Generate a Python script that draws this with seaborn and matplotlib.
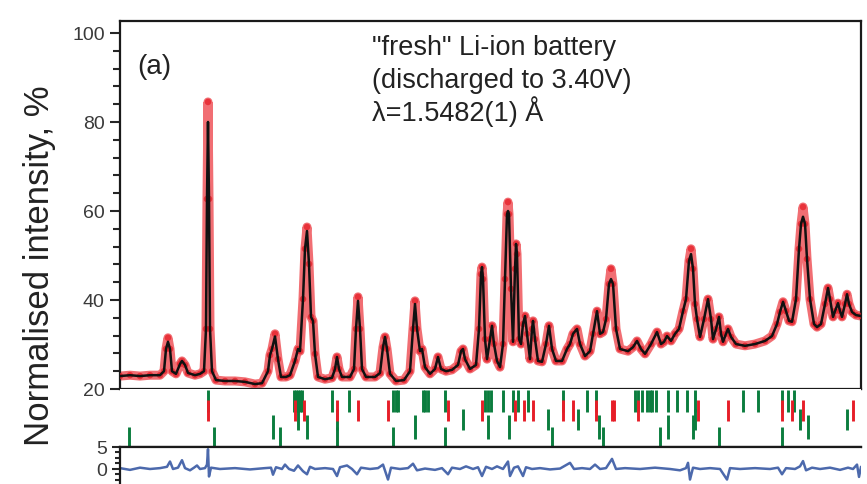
import numpy as np
import pandas as pd
import matplotlib
matplotlib.use("Agg")
import matplotlib.pyplot as plt
from matplotlib.ticker import MultipleLocator
import seaborn as sns

# 2theta (deg) of the profile vertices
two_theta = [4.0, 6.0, 8.0, 10.0, 12.0, 12.8, 13.2, 13.6, 14.0, 14.4, 15.2, 16.0, 16.4, 17.0, 17.6,
             19.0, 20.0, 20.8, 21.2, 21.4, 21.6, 21.8, 22.0, 22.4, 23.2, 25.0, 27.0, 29.0, 31.0,
             32.4, 33.6, 34.0, 34.4, 35.0, 35.6, 36.2, 37.2, 38.0, 39.0, 39.6, 40.0, 40.6, 41.0,
             41.4, 41.8, 42.2, 42.6, 43.0, 43.6, 45.0, 46.4, 47.0, 47.4, 47.8, 48.4, 50.0, 50.8,
             51.2, 51.6, 52.0, 52.4, 53.2, 55.0, 56.0, 56.6, 57.0, 57.4, 58.0, 59.2, 60.8, 62.0,
             62.6, 63.0, 63.4, 64.0, 64.4, 65.0, 66.0, 67.0, 67.6, 68.2, 69.2, 70.4, 71.6, 72.2,
             72.6, 73.0, 74.0, 75.2, 75.8, 76.2, 76.4, 76.6, 77.0, 77.4, 78.0, 78.4, 78.8, 79.4,
             80.0, 80.6, 81.0, 81.4, 81.6, 81.8, 82.2, 82.6, 83.0, 83.2, 83.4, 83.8, 84.2, 84.6,
             85.0, 85.4, 86.0, 86.4, 86.6, 87.0, 87.6, 88.4, 89.2, 89.8, 90.4, 91.2, 92.4, 93.4,
             94.0, 94.6, 95.4, 96.0, 97.0, 98.0, 98.6, 99.4, 100.0, 100.6, 101.2, 101.8, 102.2,
             102.6, 103.2, 104.0, 105.6, 106.6, 107.4, 108.2, 109.0, 110.2, 111.4, 112.2, 112.8,
             113.4, 114.2, 115.0, 115.8, 116.6, 117.2, 117.8, 118.2, 118.6, 119.0, 119.4, 120.0,
             120.8, 121.6, 122.2, 122.6, 123.2, 123.8, 124.2, 124.6, 125.2, 125.6, 126.2, 127.2,
             129.0, 131.0, 133.0, 134.4, 135.4, 136.0, 136.6, 137.2, 137.8, 138.4, 139.2, 139.8,
             140.2, 140.6, 141.0, 141.4, 142.0, 142.8, 143.4, 144.2, 145.0, 145.6, 146.0, 146.6,
             147.0, 147.6, 148.0, 148.4, 149.0, 149.4, 149.8, 150.4, 151.2, 152.2]

# calculated profile
y_calc = [22.9, 23.1, 22.9, 23.1, 23.1, 24.0, 29.0, 30.6, 29.0, 24.0, 23.4, 25.6, 26.3, 25.4, 23.6,
          23.1, 23.4, 24.0, 33.5, 62.7, 80.0, 62.7, 33.5, 24.0, 22.0, 21.8, 21.8, 21.6, 21.1,
          21.3, 24.0, 27.6, 29.0, 31.8, 26.7, 22.7, 22.7, 23.1, 26.3, 29.0, 28.5, 40.2, 51.5,
          55.5, 48.1, 36.2, 35.3, 27.9, 22.7, 22.2, 22.5, 24.5, 27.2, 24.5, 22.7, 22.7, 24.5,
          33.5, 39.8, 33.5, 24.5, 22.7, 22.7, 23.6, 29.4, 31.7, 29.0, 23.4, 21.8, 22.0, 24.0,
          33.5, 39.1, 33.5, 28.5, 29.0, 24.9, 23.4, 24.5, 27.2, 24.5, 24.0, 24.3, 25.4, 28.5,
          29.0, 26.7, 24.5, 25.4, 33.5, 45.8, 47.4, 44.7, 31.2, 26.7, 31.2, 34.2, 30.1, 26.3,
          24.9, 30.1, 44.7, 59.3, 60.0, 59.3, 42.5, 30.6, 47.0, 52.6, 50.3, 31.2, 30.1, 34.6,
          36.4, 32.4, 26.7, 33.5, 35.3, 31.2, 26.3, 26.1, 30.1, 34.2, 29.0, 26.3, 26.3, 29.0,
          30.1, 32.4, 33.5, 30.1, 27.4, 28.5, 32.4, 37.5, 32.4, 32.8, 35.7, 43.6, 44.7,
          43.6, 33.5, 29.0, 28.5, 29.4, 30.8, 29.0, 27.9, 30.1, 32.8, 30.1, 30.6,
          31.9, 30.8, 32.4, 33.5, 37.5, 40.2, 48.8, 50.3, 47.0, 39.1, 35.7, 31.7,
          35.7, 40.2, 35.7, 31.2, 33.5, 36.2, 32.4, 30.6, 32.4, 33.5, 31.7, 30.1,
          29.7, 30.1, 30.8, 31.9, 34.6, 37.3, 39.6, 37.5, 35.3, 35.1, 40.2, 51.5,
          57.1, 58.7, 57.1, 49.2, 40.2, 34.6, 33.9, 34.6, 39.1, 42.7, 40.2, 36.2,
          37.5, 39.3, 37.5, 36.2, 39.1, 41.3, 39.1, 37.3, 36.6, 36.4]

# observed points (same grid), higher than calc at the strong peak tops
y_obs = list(y_calc)
for pos, val in [(13.6, 31.5), (21.6, 84.5), (35.0, 32.4), (41.4, 56.4), (51.6, 40.7),
                 (63.0, 39.8), (81.6, 62.0), (102.2, 47.0), (118.2, 51.5), (140.6, 60.9)]:
    y_obs[two_theta.index(pos)] = val

# difference curve (obs - calc)
diff_x = [4.0, 6.0, 8.0, 10.0, 12.0, 13.4, 14.0, 14.6, 15.6, 16.4, 17.0, 18.0, 18.8, 19.4, 20.0,
          21.0, 21.4, 21.6, 21.8, 22.2, 24.0, 27.0, 30.0, 33.0, 34.2, 34.6, 35.2, 36.4, 37.0,
          37.8, 38.8, 39.6, 40.6, 41.4, 42.0, 43.0, 45.0, 46.6, 47.4, 48.0, 49.4, 50.4, 51.4,
          52.2, 54.0, 55.6, 56.6, 57.6, 58.2, 60.0, 61.6, 62.6, 63.4, 65.0, 67.0, 68.4, 69.6,
          70.4, 72.0, 73.2, 74.6, 75.6, 76.4, 77.2, 78.4, 79.4, 80.6, 81.6, 82.0, 82.8, 83.6,
          84.6, 85.2, 86.4, 88.0, 90.0, 92.0, 94.0, 94.8, 96.4, 98.0, 99.0, 100.0, 101.2,
          102.4, 103.2, 105.0, 108.0, 111.0, 114.0, 116.0, 117.2, 117.6, 118.0, 118.6, 120.0,
          122.0, 124.0, 125.4, 126.0, 128.0, 131.0, 134.0, 135.6, 136.4, 137.2, 139.0, 140.0,
          140.6, 141.2, 142.4, 144.0, 146.0, 148.0, 149.6, 150.6, 151.4, 151.8, 152.2]
diff_y = [0.2, -0.2, 0.3, 0.0, 0.2, 0.5, 1.7, 0.0, 0.3, 2.0, 0.2, -0.3, 0.3, 0.8, 0.0,
          0.2, 1.0, 4.5, -1.7, 0.3, 0.0, 0.2, -0.1, 0.2, 0.3, -1.3, 0.4, 0.0, 1.0,
          0.0, -0.4, 0.8, -0.5, -1.2, 0.5, 0.0, 0.2, 0.0, -1.6, 0.4, 0.8, 0.0, -1.2,
          0.3, 0.0, 0.2, 1.0, -2.4, 0.3, 0.0, 0.2, 1.2, -0.3, 0.1, -0.2, 0.2, -1.2,
          0.3, 0.0, 0.6, 0.0, 0.4, -1.6, 0.5, 0.0, 0.6, 0.0, 1.7, -1.6, 0.3, 0.6,
          -1.6, 0.4, 0.0, 0.2, -0.1, 0.1, 1.4, 0.0, 0.2, 0.0, 1.0, 0.0, 0.2,
          2.3, 0.0, 0.2, 0.0, 0.3, 0.0, -0.3, 0.2, 1.4, -2.4, 0.3, 0.0,
          0.2, 0.0, -2.4, 0.2, 0.0, 0.2, 0.0, 0.3, -1.2, 0.2, 0.0, 0.6,
          1.8, -0.3, 0.3, 0.0, 0.3, -0.2, 0.3, 0.0, 1.0, -1.8, 0.5]

# Bragg reflection markers, one list per phase row
ticks_row1 = [21.6, 38.8, 39.2, 39.6, 40.0, 40.4, 46.4, 49.8, 58.6, 59.2, 59.6, 64.6, 65.0, 65.6,
              69.0, 77.0, 77.6, 78.2, 80.6, 82.6, 83.6, 85.6, 92.6, 97.4, 99.2, 107.0, 107.6,
              108.4, 109.4, 110.0, 110.4, 111.2, 113.6, 115.4, 117.4, 119.0, 128.6, 131.6,
              136.4, 137.6, 138.8]
ticks_row2 = [21.6, 39.0, 40.8, 47.4, 51.6, 57.6, 69.6, 76.4, 83.0, 84.8, 86.6, 92.6, 94.6, 99.2,
              102.4, 102.8, 107.6, 119.6, 125.6, 136.4, 138.4, 140.6, 150.6]
ticks_row3 = [39.6, 47.4, 72.6, 89.6, 95.6, 119.0, 140.0, 149.4]
ticks_row4 = [34.6, 41.4, 63.0, 77.6, 81.8, 99.8, 113.6, 118.6, 141.6]
ticks_row5 = [5.8, 22.8, 36.0, 47.4, 58.6, 69.0, 90.4, 100.6, 112.0, 123.8, 136.4]

df = pd.DataFrame({"tth": two_theta, "obs": y_obs, "calc": y_calc})
dd = pd.DataFrame({"tth": diff_x, "diff": diff_y})

sns.set_style("ticks")
plt.rcParams["font.family"] = ["Liberation Sans", "DejaVu Sans"]

fig = plt.figure(figsize=(8.67, 4.85), dpi=100)
ax = fig.add_axes([0.1384, 0.1959, 0.8547, 0.7588])
axt = fig.add_axes([0.1384, 0.0763, 0.8547, 0.1196])
axd = fig.add_axes([0.1384, -0.0598, 0.8547, 0.1361])

red = "#e61e28"
green = "#0b7d3e"

# observed: thick red band + dots, calculated: black line
sns.lineplot(data=df, x="tth", y="obs", ax=ax, sort=False, color="#ee4a50", lw=6.5, alpha=0.8)
sns.scatterplot(data=df, x="tth", y="obs", ax=ax, color=red, s=22, alpha=0.75,
                edgecolor="none", zorder=3)
sns.lineplot(data=df, x="tth", y="calc", ax=ax, sort=False, color="#111111", lw=1.8, zorder=4)

ax.set_xlim(4.0, 152.2)
ax.set_ylim(20, 102.7)
ax.yaxis.set_major_locator(MultipleLocator(20))
ax.yaxis.set_minor_locator(MultipleLocator(4))
ax.set_xticks([])
ax.set_xlabel("")
ax.set_ylabel("")
for s in ax.spines.values():
    s.set_linewidth(1.6)
    s.set_color("#1a1a1a")
ax.tick_params(axis="y", which="major", length=7, width=1.5, pad=4, labelsize=14,
               labelcolor="#3a3a3a")
ax.tick_params(axis="y", which="minor", length=5, width=1.5)

# reflection tick panel
rows = [(ticks_row1, green, 0.60, 0.98), (ticks_row2, red, 0.45, 0.81),
        (ticks_row3, green, 0.29, 0.66), (ticks_row4, green, 0.14, 0.55),
        (ticks_row5, green, 0.0, 0.34)]
order = [0, 2, 3, 4, 1]
for i in order:
    pos, col, lo, hi = rows[i]
    axt.vlines(pos, lo, hi, color=col, lw=2.1, zorder=3 if col == red else 2)
axt.set_xlim(4.0, 152.2)
axt.set_ylim(0, 1)
axt.set_xticks([])
axt.set_yticks([])
for k in ["left", "right", "top"]:
    axt.spines[k].set_visible(False)
axt.spines["bottom"].set_linewidth(1.6)
axt.spines["bottom"].set_color("#1a1a1a")

# difference panel
sns.lineplot(data=dd, x="tth", y="diff", ax=axd, sort=False, color="#2c4f9e", lw=1.8, alpha=0.85)
axd.set_xlim(4.0, 152.2)
axd.set_ylim(-10, 5)
axd.set_yticks([5, 0, -5])
axd.yaxis.set_minor_locator(MultipleLocator(1.25))
axd.set_xticks([])
axd.set_xlabel("")
axd.set_ylabel("")
axd.spines["right"].set_visible(False)
axd.spines["bottom"].set_visible(False)
for k in ["left", "top"]:
    axd.spines[k].set_linewidth(1.6)
    axd.spines[k].set_color("#1a1a1a")
axd.tick_params(axis="y", which="major", length=6, width=1.5, pad=3, labelsize=14,
                labelcolor="#3a3a3a")
axd.tick_params(axis="y", which="minor", length=3.5, width=1.5)

fig.text(0.046, 0.452, "Normalised intensity, %", rotation=90, ha="center", va="center",
         fontsize=25, color="#222222")
fig.text(0.158, 0.862, "(a)", fontsize=20, color="#222222", va="center")
fig.text(0.429, 0.8866, "\"fresh\" Li-ion battery", fontsize=19.5, color="#222222")
fig.text(0.429, 0.8186, "(discharged to 3.40V)", fontsize=19.5, color="#222222")
fig.text(0.429, 0.7505, "λ=1.5482(1) Å", fontsize=19.5, color="#222222")

fig.savefig("out.png", dpi=100)
